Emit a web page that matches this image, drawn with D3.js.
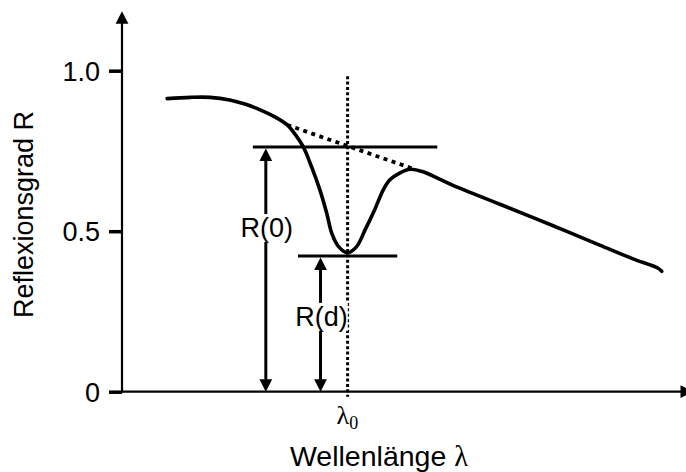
<!DOCTYPE html>
<html>
<head>
<meta charset="utf-8">
<title>Reflexionsgrad</title>
<script src="https://cdn.jsdelivr.net/npm/d3@7"></script>
<style>
  body { margin: 0; background: #fff; }
  svg { display: block; font-family: 'Liberation Sans', Arial, sans-serif; }
  .axis text { font-size: 27px; fill: #000; }
  .axis line { stroke: #000; stroke-width: 3.5; }
  .lbl { font-size: 27px; fill: #000; }
</style>
</head>
<body>
<svg id="chart" width="686" height="472"></svg>
<script>
// measured spectrum, wavelength in arbitrary units (0..100)
var wavelength = [8.0, 12.1, 15.6, 19.1, 21.8, 24.5, 27.1, 29.3, 30.3, 32.1, 33.6, 35.1, 36.3, 37.2, 38.4, 40.0,
                  41.6, 43.1, 44.9, 46.3, 47.5, 49.3, 51.1, 53.4, 56.1, 58.7, 67.0, 75.9, 84.8, 90.6, 94.9, 95.7];
var reflectance = [0.913, 0.917, 0.917, 0.909, 0.896, 0.878, 0.856, 0.831, 0.811, 0.764, 0.701, 0.628, 0.556, 0.493, 0.452, 0.433,
                   0.452, 0.504, 0.571, 0.628, 0.660, 0.682, 0.693, 0.685, 0.664, 0.643, 0.584, 0.521, 0.456, 0.414, 0.386, 0.375];

// reflectance without the dip (dotted)
var baseWavelength = [29.3, 51.7];
var baseReflectance = [0.831, 0.694];

// annotation values
var lambda0 = 40;
var r0 = 0.762, rd = 0.423;
var r0Span = [23.2, 55.9], rdSpan = [31.2, 48.8];
var r0ArrowAt = 25.5, rdArrowAt = 35.2;
var r0LabelAt = 0.482, rdLabelAt = 0.205;

var yTicks = [0, 0.5, 1];
var yTickLabels = ["0", "0.5", "1.0"];

var svg = d3.select("#chart");

var x = d3.scaleLinear().domain([0, 100]).range([122, 686]);
var y = d3.scaleLinear().domain([0, 1]).range([391.7, 70.7]);

function arrowHead(tx, ty, angle) {
  svg.append("path")
    .attr("d", "M0,0 L-12.5,-6.4 L-12.5,6.4 Z")
    .attr("transform", "translate(" + tx + "," + ty + ") rotate(" + angle + ")")
    .attr("fill", "#000");
}

// axes
var yAxis = svg.append("g")
  .attr("class", "axis")
  .attr("transform", "translate(" + x(0) + ",0)")
  .call(d3.axisLeft(y).tickValues(yTicks)
    .tickFormat(function (d, i) { return yTickLabels[i]; })
    .tickSize(13).tickPadding(9));
yAxis.select(".domain").remove();
yAxis.selectAll("text").attr("dy", "0.35em").attr("font-family", "'Liberation Sans', Arial, sans-serif");

svg.append("line")
  .attr("x1", x(0)).attr("x2", x(0))
  .attr("y1", y(0) + 1).attr("y2", y(1.15))
  .attr("stroke", "#000").attr("stroke-width", 2.2);
arrowHead(x(0), y(1.185), -90);

svg.append("line")
  .attr("x1", x(0)).attr("x2", 682)
  .attr("y1", y(0)).attr("y2", y(0))
  .attr("stroke", "#000").attr("stroke-width", 2.2);
arrowHead(693, y(0), 0);

// lambda0 marker
svg.append("line")
  .attr("x1", x(lambda0)).attr("x2", x(lambda0))
  .attr("y1", y(0.983)).attr("y2", y(-0.016))
  .attr("stroke", "#000").attr("stroke-width", 3)
  .attr("stroke-dasharray", "3,2.4");

// undisturbed reflectance
svg.append("path")
  .datum(d3.zip(baseWavelength, baseReflectance))
  .attr("d", d3.line().x(function (d) { return x(d[0]); }).y(function (d) { return y(d[1]); }))
  .attr("fill", "none").attr("stroke", "#000")
  .attr("stroke-width", 3.8).attr("stroke-dasharray", "4,4.5");

// spectrum
var line = d3.line()
  .x(function (d) { return x(d[0]); })
  .y(function (d) { return y(d[1]); })
  .curve(d3.curveCatmullRom.alpha(0.5));

svg.append("path")
  .datum(d3.zip(wavelength, reflectance))
  .attr("d", line)
  .attr("fill", "none").attr("stroke", "#000")
  .attr("stroke-width", 3.6).attr("stroke-linejoin", "round").attr("stroke-linecap", "round");

// R(0) and R(d) levels
[[r0, r0Span], [rd, rdSpan]].forEach(function (p) {
  svg.append("line")
    .attr("x1", x(p[1][0])).attr("x2", x(p[1][1]))
    .attr("y1", y(p[0])).attr("y2", y(p[0]))
    .attr("stroke", "#000").attr("stroke-width", 3);
});

function dimension(at, top, label, labelAt) {
  var xp = x(at);
  svg.append("line")
    .attr("x1", xp).attr("x2", xp)
    .attr("y1", y(top) + 12).attr("y2", y(0) - 12)
    .attr("stroke", "#000").attr("stroke-width", 3);
  arrowHead(xp, y(top) + 1.5, -90);
  arrowHead(xp, y(0), 90);

  var g = svg.append("g");
  var t = g.append("text")
    .attr("class", "lbl")
    .attr("x", xp + 1).attr("y", y(labelAt))
    .attr("text-anchor", "middle")
    .text(label);
  var b = t.node().getBBox();
  g.insert("rect", "text")
    .attr("x", b.x).attr("y", b.y + 1)
    .attr("width", b.width).attr("height", b.height - 2)
    .attr("fill", "#fff");
}
dimension(r0ArrowAt, r0, "R(0)", r0LabelAt);
dimension(rdArrowAt, rd, "R(d)", rdLabelAt);

// labels
var l0 = svg.append("text")
  .attr("x", x(lambda0) - 11).attr("y", 423.5)
  .attr("font-family", "'Liberation Serif', 'Times New Roman', serif")
  .attr("font-size", 26);
l0.append("tspan").text("λ");
l0.append("tspan").attr("font-size", 18).attr("dy", 5).text("0");

var xl = svg.append("text")
  .attr("class", "lbl")
  .attr("font-size", 28.5).style("font-size", "28.5px")
  .attr("x", 379).attr("y", 466)
  .attr("text-anchor", "middle");
xl.append("tspan").text("Wellenlänge ");
xl.append("tspan").attr("font-family", "'Liberation Serif', 'Times New Roman', serif").text("λ");

svg.append("text")
  .attr("class", "lbl")
  .attr("transform", "translate(33,214.5) rotate(-90)")
  .attr("text-anchor", "middle")
  .text("Reflexionsgrad R");
</script>
</body>
</html>
